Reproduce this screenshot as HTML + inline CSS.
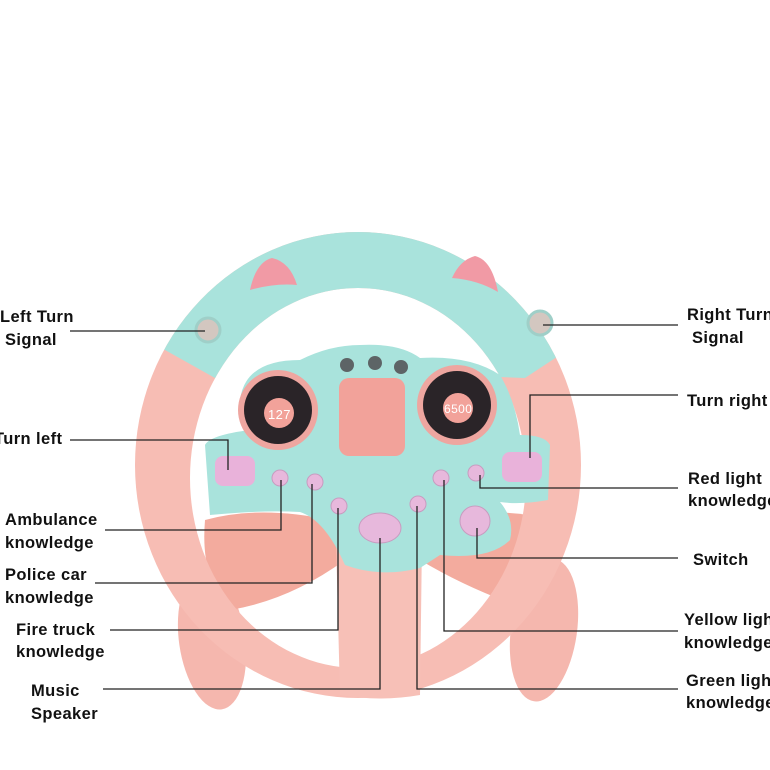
<!DOCTYPE html>
<html><head><meta charset="utf-8"><style>
html,body{margin:0;padding:0;background:#fff;width:770px;height:770px;overflow:hidden}
svg text{font-family:"Liberation Sans",sans-serif;font-size:16.5px;font-weight:bold;fill:#111;letter-spacing:0.4px}
</style></head><body>
<svg width="770" height="770" viewBox="0 0 770 770" xmlns="http://www.w3.org/2000/svg">
<defs>
<clipPath id="top"><path d="M0 0 H770 V320 L575 345 L525 378 L360 372 L215 378 L165 350 L0 345 Z"/></clipPath>
<mask id="ring"><rect width="770" height="770" fill="#fff"/><ellipse cx="358" cy="478" rx="168" ry="190" fill="#000"/></mask>
</defs>
<ellipse cx="212" cy="640" rx="33" ry="70" fill="#f5b7ae" transform="rotate(-8 212 640)"/>
<ellipse cx="544" cy="630" rx="33" ry="72" fill="#f5b7ae" transform="rotate(8 544 630)"/>
<path d="M205 520 Q260 505 330 520 L345 560 Q290 600 230 610 Q200 580 205 520Z" fill="#f3ab9e"/>
<path d="M430 520 Q500 505 550 520 Q560 580 530 610 Q470 590 420 560Z" fill="#f3ab9e"/>
<ellipse cx="358" cy="465" rx="223" ry="233" fill="#f7bdb4" mask="url(#ring)"/>
<ellipse cx="358" cy="465" rx="223" ry="233" fill="#a9e3dc" mask="url(#ring)" clip-path="url(#top)"/>
<path d="M250 290 Q256 262 272 258 Q290 262 297 285 Q275 283 250 290Z" fill="#f19aa5"/>
<path d="M452 278 Q460 260 475 256 Q492 260 498 292 Q478 280 452 278Z" fill="#f19aa5"/>
<circle cx="208" cy="330" r="12" fill="#d3c7c0" stroke="#9fcfc8" stroke-width="3"/>
<circle cx="540" cy="323" r="12" fill="#d3c7c0" stroke="#9fcfc8" stroke-width="3"/>
<path d="M336 540 L422 540 L420 695 Q380 702 340 695 Z" fill="#f7c0b7"/>
<path d="M205 445 Q210 435 250 430 L240 400 Q245 360 300 360 Q330 345 360 345 Q400 343 420 358 Q470 355 500 375 Q515 400 520 435 Q545 435 550 445 L548 500 Q520 505 500 502 Q515 520 510 540 Q490 560 440 555 L420 568 Q380 578 345 565 Q325 520 300 512 Q260 510 210 515 Z" fill="#a9e3dc"/>
<circle cx="278" cy="410" r="40" fill="#eea6a0"/>
<circle cx="278" cy="410" r="34" fill="#2a2428"/>
<circle cx="279" cy="413" r="15" fill="#f2a29a"/>
<text x="268" y="419" style="font-size:13px;font-weight:normal;fill:#fff">127</text>
<circle cx="457" cy="405" r="40" fill="#eea6a0"/>
<circle cx="457" cy="405" r="34" fill="#2a2428"/>
<circle cx="458" cy="408" r="15" fill="#f2a29a"/>
<text x="444" y="413" style="font-size:12px;font-weight:normal;fill:#fff">6500</text>
<rect x="339" y="378" width="66" height="78" rx="10" fill="#f2a29a"/>
<circle cx="347" cy="365" r="7" fill="#5d6466"/><circle cx="375" cy="363" r="7" fill="#5d6466"/><circle cx="401" cy="367" r="7" fill="#5d6466"/>
<rect x="215" y="456" width="40" height="30" rx="8" fill="#e9b2da"/>
<rect x="502" y="452" width="40" height="30" rx="8" fill="#e9b2da"/>
<g fill="#e7b8dc" stroke="#c79cc0" stroke-width="1">
<circle cx="280" cy="478" r="8"/><circle cx="315" cy="482" r="8"/><circle cx="339" cy="506" r="8"/>
<circle cx="418" cy="504" r="8"/><circle cx="441" cy="478" r="8"/><circle cx="476" cy="473" r="8"/>
<ellipse cx="380" cy="528" rx="21" ry="15"/><circle cx="475" cy="521" r="15"/>
</g>
<g stroke="#222" stroke-width="1.3" fill="none">
<path d="M70 331 H205"/>
<path d="M70 440 H228 V470"/>
<path d="M105 530 H281 V480"/>
<path d="M95 583 H312 V484"/>
<path d="M110 630 H338 V508"/>
<path d="M103 689 H380 V538"/>
<path d="M543 325 H678"/>
<path d="M678 395 H530 V458"/>
<path d="M678 488 H480 V475"/>
<path d="M678 558 H477 V528"/>
<path d="M678 631 H444 V480"/>
<path d="M678 689 H417 V506"/>
</g>
<text x="0" y="322">Left Turn</text><text x="5" y="345">Signal</text>
<text x="-6" y="444">Turn left</text>
<text x="5" y="525">Ambulance</text><text x="5" y="548">knowledge</text>
<text x="5" y="580">Police car</text><text x="5" y="603">knowledge</text>
<text x="16" y="635">Fire truck</text><text x="16" y="657">knowledge</text>
<text x="31" y="696">Music</text><text x="31" y="719">Speaker</text>
<text x="687" y="320">Right Turn</text><text x="692" y="343">Signal</text>
<text x="687" y="406">Turn right</text>
<text x="688" y="484">Red light</text><text x="688" y="506">knowledge</text>
<text x="693" y="565">Switch</text>
<text x="684" y="625">Yellow light</text><text x="684" y="648">knowledge</text>
<text x="686" y="686">Green light</text><text x="686" y="708">knowledge</text>
</svg>
</body></html>
